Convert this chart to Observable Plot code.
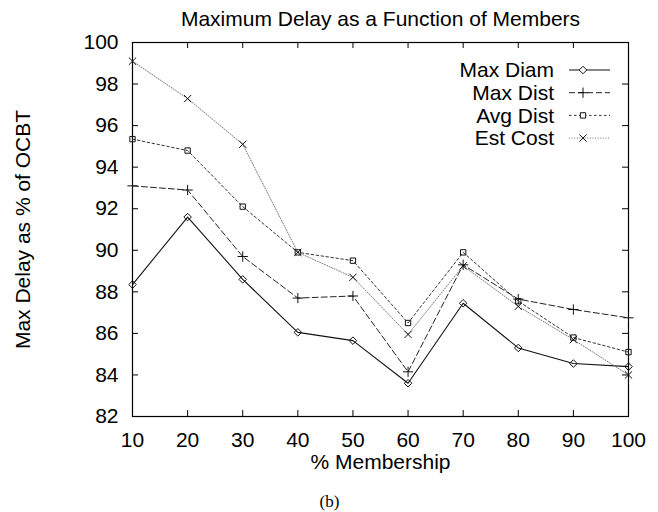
<!DOCTYPE html>
<html>
<head>
<meta charset="utf-8">
<script src="https://cdn.jsdelivr.net/npm/d3@7"></script>
<script src="https://cdn.jsdelivr.net/npm/@observablehq/plot@0.6"></script>
<style>
  html, body { margin: 0; padding: 0; background: #fff; }
  #chart { width: 658px; height: 512px; }
</style>
</head>
<body>
<div id="chart"></div>
<script>
// Maximum delay (as % of OCBT) against group membership, four heuristics
const membership = [10, 20, 30, 40, 50, 60, 70, 80, 90, 100];
const maxDiam = [88.35, 91.6, 88.6, 86.05, 85.65, 83.6, 87.45, 85.3, 84.55, 84.4];
const maxDist = [93.1, 92.9, 89.7, 87.7, 87.8, 84.15, 89.3, 87.65, 87.15, 86.75];
const avgDist = [95.35, 94.8, 92.1, 89.9, 89.5, 86.5, 89.9, 87.55, 85.8, 85.1];
const estCost = [99.1, 97.3, 95.1, 89.9, 88.7, 85.95, 89.25, 87.3, 85.7, 84.0];

const seriesNames = ["Max Diam", "Max Dist", "Avg Dist", "Est Cost"];
const seriesValues = [maxDiam, maxDist, avgDist, estCost];

const xTicks = membership;
const yTicks = [82, 84, 86, 88, 90, 92, 94, 96, 98, 100];

const titleText = "Maximum Delay as a Function of Members";
const xLabel = "% Membership";
const yLabel = "Max Delay as % of OCBT";
const captionText = "(b)";

// line styling per series
const styles = {
  "Max Diam": {stroke: "#111", dash: null, symbol: "diamond2", d3sym: d3.symbolDiamond2, width: 1.1},
  "Max Dist": {stroke: "#222", dash: "6,3", symbol: "plus", d3sym: d3.symbolPlus, width: 1},
  "Avg Dist": {stroke: "#333", dash: "2.5,2.5", symbol: "square2", d3sym: d3.symbolSquare2, width: 1},
  "Est Cost": {stroke: "#777", dash: "1,1.6", symbol: "times", d3sym: d3.symbolTimes, width: 1}
};

const rows = seriesNames.flatMap((name, i) =>
  membership.map((m, j) => ({series: name, x: m, y: seriesValues[i][j]}))
);

const W = 658, H = 512;
const mL = 132, mR = 30, mT = 42, mB = 96;
const frameW = W - mL - mR, frameH = H - mT - mB;
const tick = 6;
const font = "Liberation Sans, Arial, Helvetica, sans-serif";

const seriesMarks = seriesNames.flatMap(name => {
  const s = styles[name];
  const data = rows.filter(d => d.series === name);
  return [
    Plot.line(data, {x: "x", y: "y", stroke: s.stroke, strokeWidth: s.width, strokeDasharray: s.dash}),
    Plot.dot(data, {x: "x", y: "y", symbol: () => s.symbol, stroke: "#111", strokeWidth: 1, r: 3.4, fill: "none"})
  ];
});

// key in the upper right corner of the frame
function keyMark(index, scales, values, dims) {
  const g = d3.create("svg:g");
  const right = dims.width - dims.marginRight;
  seriesNames.forEach((name, i) => {
    const s = styles[name];
    const y = dims.marginTop + 28 + i * 22.7;
    g.append("text")
      .attr("x", right - 74).attr("y", y)
      .attr("dy", "0.35em")
      .attr("text-anchor", "end")
      .attr("font-size", 21)
      .attr("font-family", font)
      .attr("fill", "#000")
      .text(name);
    g.append("line")
      .attr("x1", right - 59).attr("x2", right - 18)
      .attr("y1", y).attr("y2", y)
      .attr("stroke", s.stroke)
      .attr("stroke-width", s.width)
      .attr("stroke-dasharray", s.dash);
    g.append("path")
      .attr("transform", `translate(${right - 45},${y})`)
      .attr("d", d3.symbol(s.d3sym, 3.4 * 3.4 * Math.PI)())
      .attr("fill", "white")
      .attr("stroke", "#111");
  });
  return g.node();
}

const chart = Plot.plot({
  width: W,
  height: H,
  marginLeft: mL,
  marginRight: mR,
  marginTop: mT,
  marginBottom: mB,
  style: {fontFamily: font, fontSize: "21px", background: "white", color: "#000"},
  x: {domain: [10, 100], label: null},
  y: {domain: [82, 100], label: null},
  marks: [
    // tick labels
    Plot.axisX({anchor: "bottom", ticks: xTicks, tickSize: 0, tickPadding: 16, label: null, fontSize: 21}),
    Plot.axisY({anchor: "left", ticks: yTicks, tickSize: 0, tickPadding: 14, label: null, fontSize: 21}),
    // inward ticks on all four sides
    Plot.ruleX(xTicks.slice(1, -1), {x: d => d, insetTop: frameH - tick, stroke: "#000"}),
    Plot.ruleX(xTicks.slice(1, -1), {x: d => d, insetBottom: frameH - tick, stroke: "#000"}),
    Plot.ruleY(yTicks.slice(1, -1), {y: d => d, insetRight: frameW - tick, stroke: "#000"}),
    Plot.ruleY(yTicks.slice(1, -1), {y: d => d, insetLeft: frameW - tick, stroke: "#000"}),
    Plot.frame({stroke: "#000", strokeWidth: 1.2}),
    ...seriesMarks,
    keyMark,
    // title and axis titles
    Plot.text([titleText], {text: d => d, frameAnchor: "top", dy: -23, lineAnchor: "middle", fontSize: 21}),
    Plot.text([xLabel], {text: d => d, frameAnchor: "bottom", dy: 46, lineAnchor: "middle", fontSize: 21}),
    Plot.text([yLabel], {text: d => d, frameAnchor: "left", dx: -109, rotate: -90, textAnchor: "middle", lineAnchor: "middle", fontSize: 21}),
    Plot.text([captionText], {text: d => d, frameAnchor: "bottom-left", dx: 197, dy: 85, textAnchor: "middle", lineAnchor: "middle", fontSize: 17, fontFamily: "Liberation Serif, Times New Roman, serif"})
  ]
});

document.getElementById("chart").appendChild(chart);
</script>
</body>
</html>
